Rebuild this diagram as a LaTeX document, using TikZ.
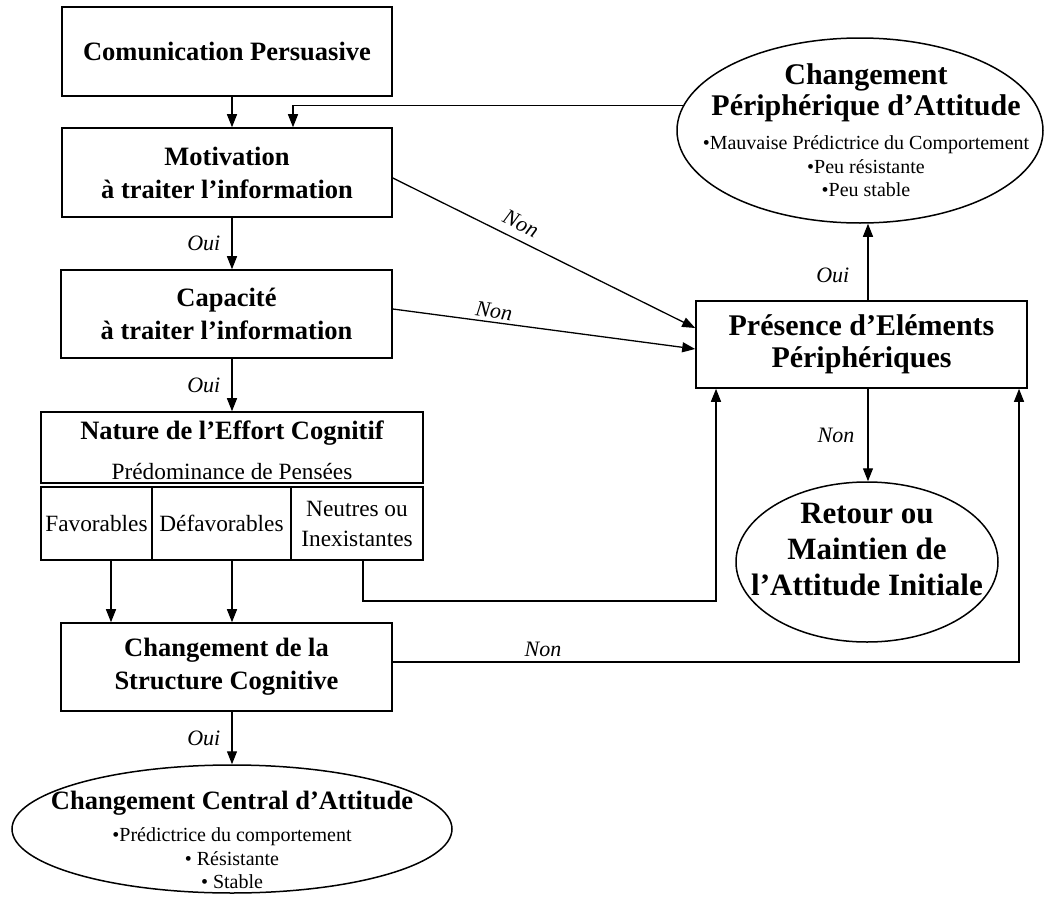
\documentclass[tikz,border=0pt]{standalone}
\usepackage{fontspec}
\setmainfont{Liberation Serif}
\usetikzlibrary{arrows.meta,shapes.geometric,calc}
\begin{document}
\begin{tikzpicture}[x=1pt,y=-1pt,
  box/.style={draw, line width=1.6pt, rectangle, inner sep=0pt, align=center},
  oval/.style={draw, line width=1.5pt, ellipse, inner sep=0pt},
  arr/.style={line width=1.3pt, -{Triangle[length=13pt,width=10pt]}},
  tb/.style={font=\fontsize{26.5}{33}\selectfont\bfseries, align=center, inner sep=0pt},
  tB/.style={font=\fontsize{30}{32}\selectfont\bfseries, align=center, inner sep=0pt},
  tr/.style={font=\fontsize{23.3}{30}\selectfont},
  tbul/.style={font=\fontsize{20}{23.5}\selectfont, align=center, inner sep=0pt},
  lab/.style={font=\fontsize{22}{26}\selectfont\itshape, inner sep=2pt}]
\useasboundingbox (0,0) rectangle (1045,902);

% x positions of connectors
\coordinate (cx) at (232,0);
\coordinate (fbx) at (293,0);
\coordinate (fx) at (111,0);
\coordinate (nx) at (363,0);
\coordinate (ny) at (0,601);
\coordinate (px) at (716,0);
\coordinate (sx) at (1019,0);
\coordinate (ox) at (868,0);

% left column
\node[box,tb,minimum width=330,minimum height=89] (comm) at (227,51.5) {Comunication Persuasive};
\node[box,tb,minimum width=330,minimum height=89] (mot) at (227,172.5) {Motivation\\à traiter l’information};
\node[box,tb,minimum width=331,minimum height=88] (cap) at (226.5,314) {Capacité\\à traiter l’information};

\node[box,minimum width=382,minimum height=71] (nat) at (232,447.5) {};
\node[tb] (natt) at (232,433) {Nature de l’Effort Cognitif};
\node[tr,inner sep=0pt] (natp) at (232,472) {Prédominance de Pensées};
\node[box,tr,minimum width=111,minimum height=73] (fav) at (96.5,523.5) {Favorables};
\node[box,tr,minimum width=139,minimum height=73] (def) at (221.5,523.5) {Défavorables};
\node[box,tr,minimum width=132,minimum height=73] (neu) at (357,523.5) {Neutres ou\\Inexistantes};

\node[box,tb,minimum width=331,minimum height=88] (str) at (226.5,667) {Changement de la\\Structure Cognitive};

\node[oval,minimum width=440,minimum height=128] (cen) at (232,829) {};
\node[tb] (cent) at (232,803) {Changement Central d’Attitude};
\node[tbul] (cenb) at (232,858.5) {•Prédictrice du comportement\\• Résistante\\• Stable};

% right column
\node[oval,minimum width=366,minimum height=185] (per) at (860,130.5) {};
\node[tB,font=\fontsize{30}{31}\selectfont\bfseries] (pert) at (866,92.5) {Changement\\Périphérique d’Attitude};
\node[tbul] (perb) at (866,166.5) {•Mauvaise Prédictrice du Comportement\\•Peu résistante\\•Peu stable};

\node[box,tB,minimum width=331,minimum height=87] (pre) at (861.5,344.5) {Présence d’Eléments\\Périphériques};

\node[oval,minimum width=262,minimum height=160] (ret) at (867,562) {};
\node[tB,font=\fontsize{31}{36}\selectfont\bfseries] (rett) at (867,550) {Retour ou\\Maintien de\\l’Attitude Initiale};

% connectors
\draw[arr] (comm.south -| cx) -- (mot.north -| cx);
\draw[arr] (mot.south -| cx) -- (cap.north -| cx) node[lab,midway,left=9pt] {Oui};
\draw[arr] (cap.south -| cx) -- (nat.north -| cx) node[lab,midway,left=9pt] {Oui};
\draw[arr] (fav.south -| fx) -- (str.north -| fx);
\draw[arr] (def.south -| cx) -- (str.north -| cx);
\draw[arr] (str.south -| cx) -- (cen.north -| cx) node[lab,midway,left=9pt] {Oui};

\draw[arr] (per.172.8) -| (mot.north -| fbx);

\draw[arr] ($(mot.east)+(0,5.5)$) -- ($(pre.west)+(0,-16.5)$) node[lab,pos=0.4,sloped,above=6pt] {Non};
\draw[arr] ($(cap.east)+(0,-5)$) -- ($(pre.west)+(0,4.5)$) node[lab,pos=0.33,sloped,above=1pt] {Non};

\draw[arr] (neu.south -| nx) |- (ny -| px) -- (pre.south -| px);
\draw[arr] ($(str.east)+(0,-5)$) -| (pre.south -| sx) node[lab,pos=0.12,above=3pt] {Non};

\draw[arr] (pre.north -| ox) -- (per.south -| ox) node[lab,pos=0.33,left=16pt] {Oui};
\draw[arr] (pre.south -| ox) -- (ret.north -| ox) node[lab,midway,left=11pt] {Non};
\end{tikzpicture}
\end{document}
